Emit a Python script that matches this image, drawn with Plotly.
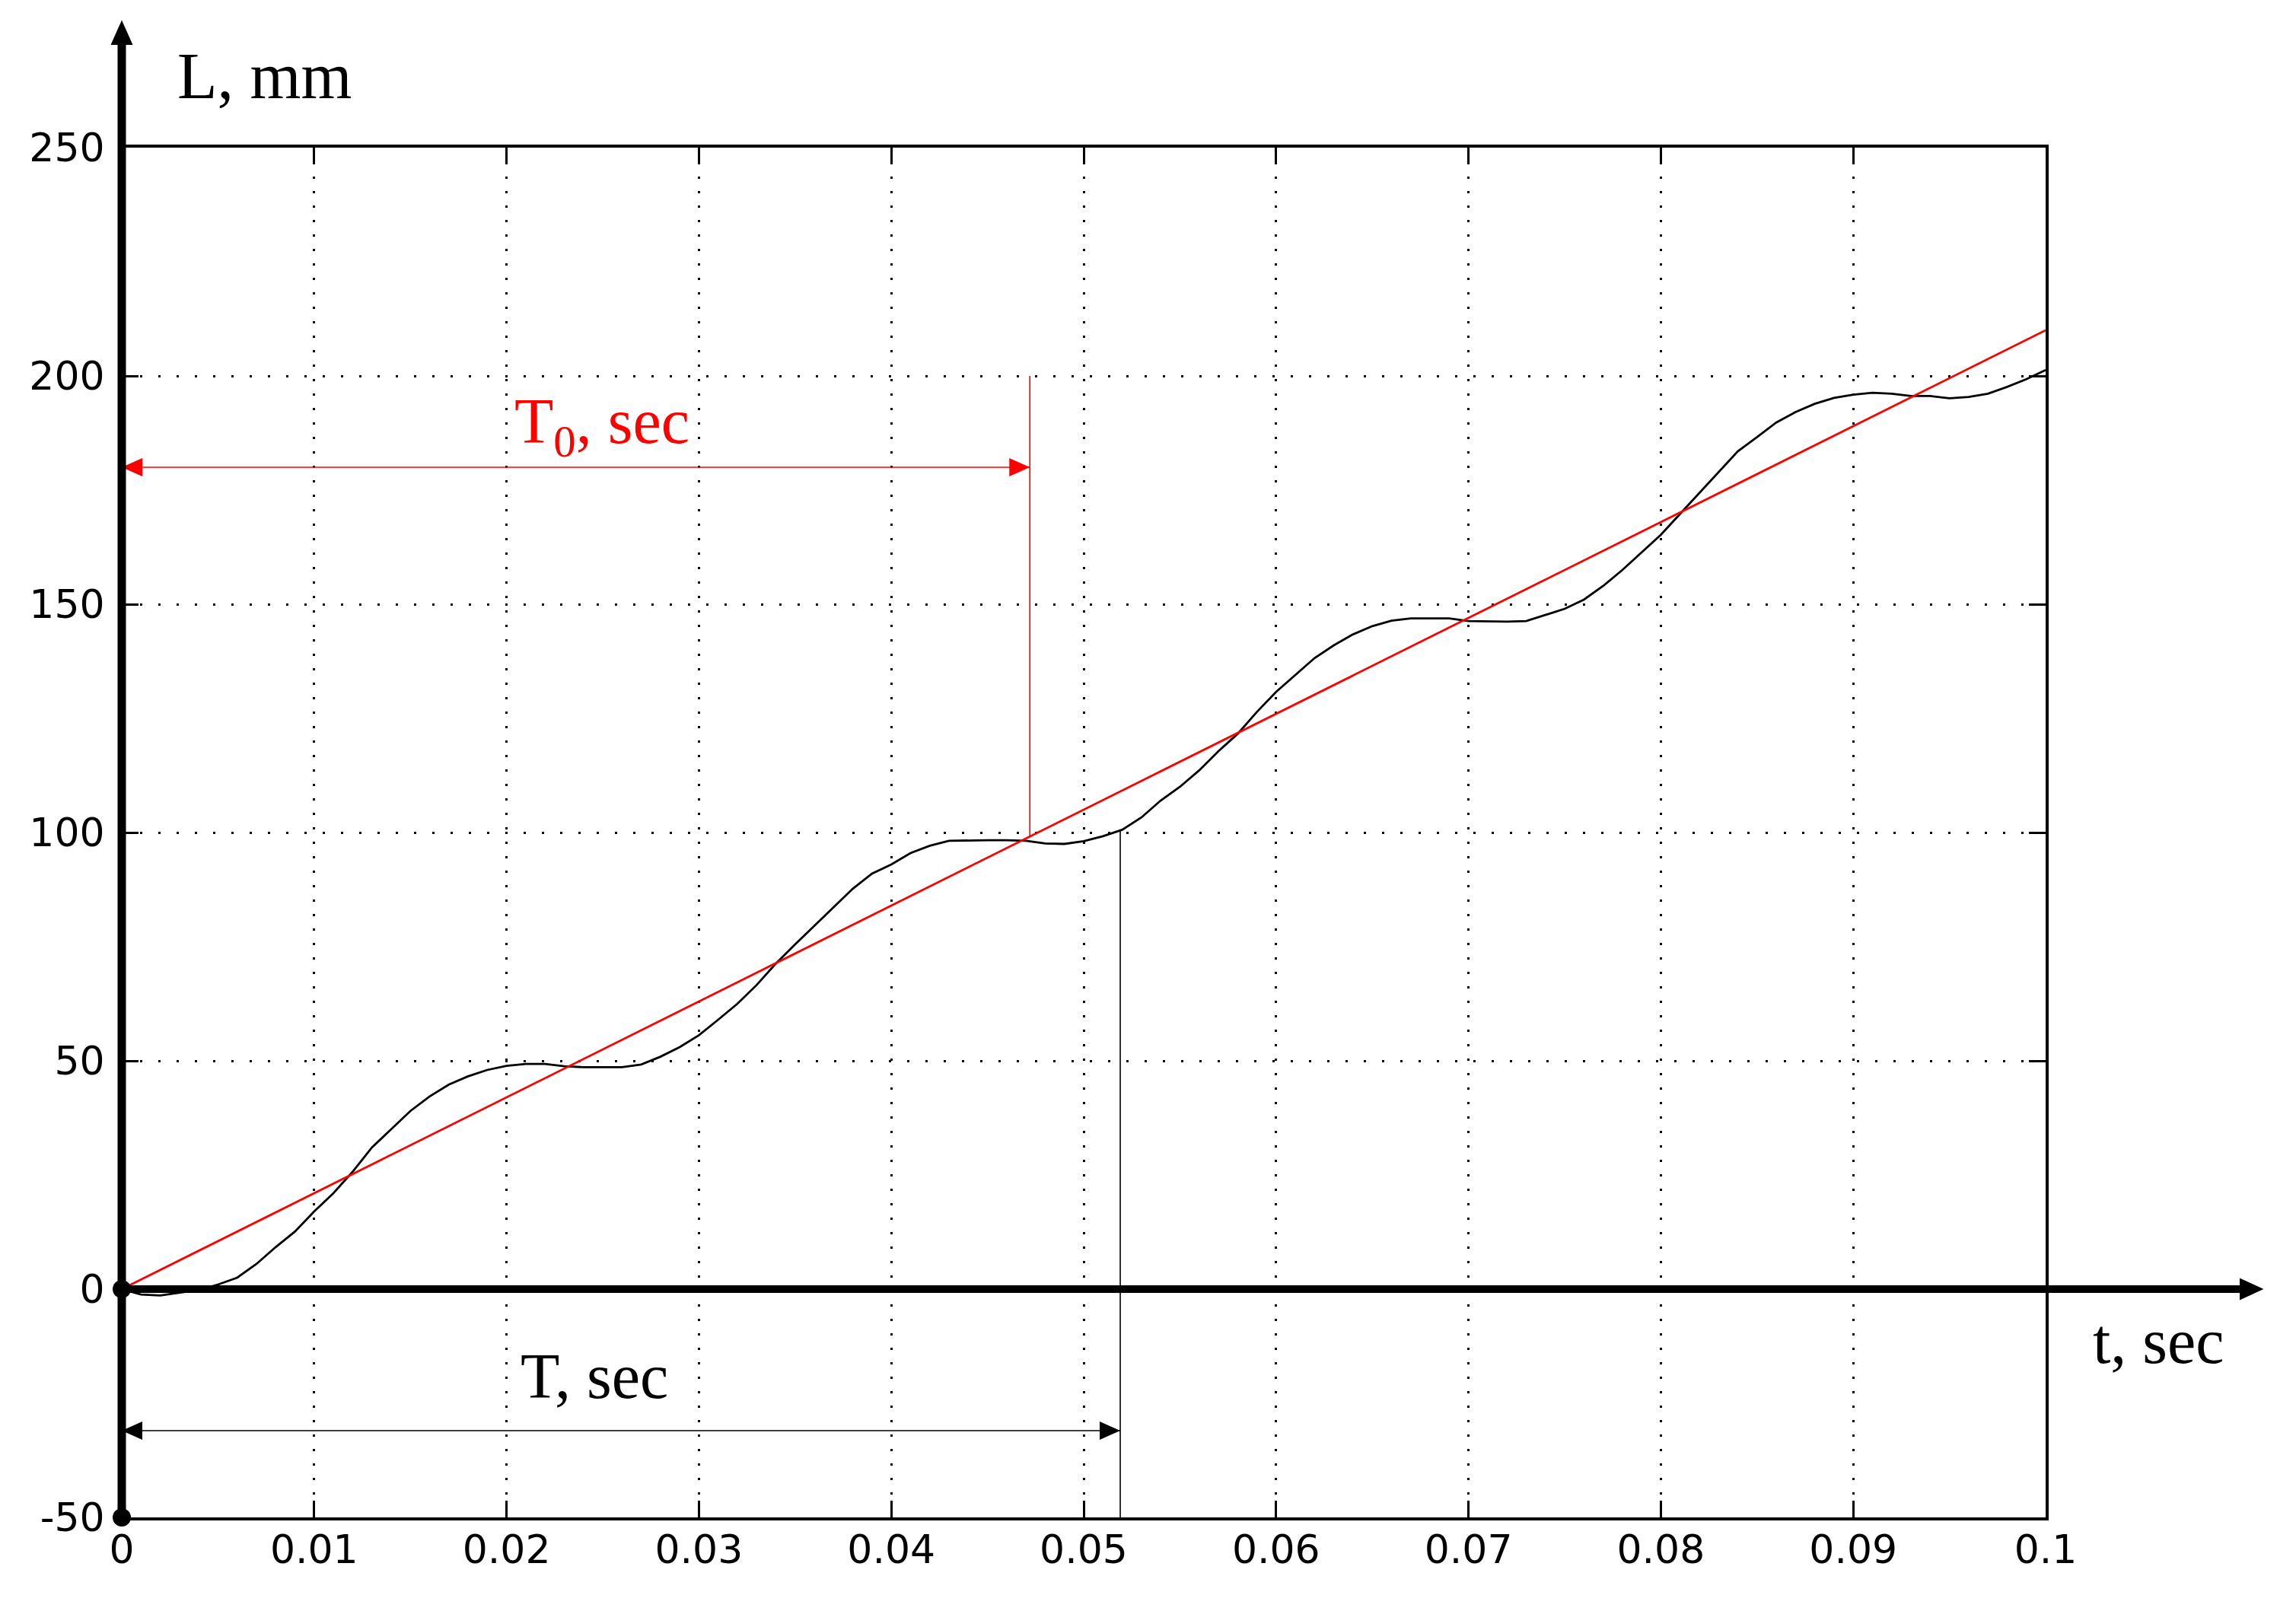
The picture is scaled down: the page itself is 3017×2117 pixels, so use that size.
import numpy as np
import plotly.graph_objects as go

# ---------------- data ----------------
t_black = [0.000, 0.001, 0.002, 0.003, 0.004, 0.005, 0.006, 0.007, 0.008, 0.009,
           0.010, 0.011, 0.012, 0.013, 0.014, 0.015, 0.016, 0.017, 0.018, 0.019,
           0.020, 0.021, 0.022, 0.023, 0.024, 0.025, 0.026, 0.027, 0.028, 0.029,
           0.030, 0.031, 0.032, 0.033, 0.034, 0.035, 0.036, 0.037, 0.038, 0.039,
           0.040, 0.041, 0.042, 0.043, 0.044, 0.045, 0.046, 0.047, 0.048, 0.049,
           0.050, 0.051, 0.052, 0.053, 0.054, 0.055, 0.056, 0.057, 0.058, 0.059,
           0.060, 0.061, 0.062, 0.063, 0.064, 0.065, 0.066, 0.067, 0.068, 0.069,
           0.070, 0.071, 0.072, 0.073, 0.074, 0.075, 0.076, 0.077, 0.078, 0.079,
           0.080, 0.081, 0.082, 0.083, 0.084, 0.085, 0.086, 0.087, 0.088, 0.089,
           0.090, 0.091, 0.092, 0.093, 0.094, 0.095, 0.096, 0.097, 0.098, 0.099,
           0.100]
L_black = [0.0, -1.2, -1.4, -0.8, -0.2, 1.0, 2.5, 5.5, 9.2, 12.6,
           17.0, 21.0, 25.7, 31.0, 35.0, 39.0, 42.2, 44.8, 46.6, 48.0,
           48.9, 49.3, 49.3, 48.8, 48.6, 48.6, 48.6, 49.2, 50.9, 53.0,
           55.6, 59.0, 62.5, 66.6, 71.3, 75.5, 79.6, 83.7, 87.7, 91.0,
           93.0, 95.5, 97.1, 98.2, 98.3, 98.3, 98.3, 98.2, 97.6, 97.5,
           98.1, 99.2, 100.6, 103.3, 107.0, 110.0, 113.6, 117.8, 121.6, 126.4,
           130.8, 134.5, 138.2, 141.0, 143.4, 145.2, 146.4, 146.9, 146.9, 146.9,
           146.3, 146.2, 146.2, 146.3, 147.6, 149.0, 151.0, 154.0, 157.5, 161.3,
           165.2, 169.8, 174.4, 179.0, 183.5, 186.6, 189.8, 192.1, 193.9, 195.2,
           195.9, 196.3, 196.1, 195.6, 195.6, 195.1, 195.4, 196.1, 197.6, 199.3,
           201.3]

t_red = [0.0, 0.1]
L_red = [0.0, 210.0]

x_ticks = [0, 0.01, 0.02, 0.03, 0.04, 0.05, 0.06, 0.07, 0.08, 0.09, 0.1]
x_tick_labels = ["0", "0.01", "0.02", "0.03", "0.04", "0.05", "0.06", "0.07", "0.08", "0.09", "0.1"]
y_ticks = [-50, 0, 50, 100, 150, 200, 250]
y_tick_labels = ["-50", "0", "50", "100", "150", "200", "250"]

T0_value = 0.0472      # sec, red dimension
T0_arrow_level = 180   # mm
T0_line_top = 200      # mm
T_value = 0.0519       # sec, black dimension
T_arrow_level = -31    # mm

# ---------------- layout constants ----------------
PAGE_W, PAGE_H = 3017, 2117
BODY = 8                                   # default page margin of the html body
W, H = PAGE_W - 2 * BODY, PAGE_H - 2 * BODY
PL, PT, PR, PB = 160, 194, 2688, 1994      # plot area on the page
ML, MT = PL - BODY, PT - BODY
PW, PH = PR - PL, PB - PT
MR, MB = W - ML - PW, H - MT - PH
X_RANGE = [0.0, 0.1]
Y_RANGE = [-50.0, 250.0]
dx_per_px = (X_RANGE[1] - X_RANGE[0]) / PW
dy_per_px = (Y_RANGE[1] - Y_RANGE[0]) / PH


def xpaper(v):
    return (v - X_RANGE[0]) / (X_RANGE[1] - X_RANGE[0])


def ypaper(v):
    return (v - Y_RANGE[0]) / (Y_RANGE[1] - Y_RANGE[0])


def px_to_xpaper(px):          # page pixel -> paper x
    return (px - PL) / PW


def px_to_ypaper(py):          # page pixel -> paper y
    return (PB - py) / PH


fig = go.Figure()

fig.add_trace(go.Scatter(x=t_black, y=L_black, mode="lines",
                         line=dict(color="black", width=2.8), hoverinfo="skip"))
fig.add_trace(go.Scatter(x=t_red, y=L_red, mode="lines",
                         line=dict(color="#ff0000", width=2.8), hoverinfo="skip"))

shapes = []
SERIF = "Liberation Serif, Times New Roman, serif"

# ---- dimension lines ----
red_bottom = float(np.interp(T0_value, t_red, L_red))
black_top = float(np.interp(T_value, t_black, L_black))


def hline(x0, x1, y, color, width):
    shapes.append(dict(type="line", xref="x", yref="y", x0=x0, x1=x1, y0=y, y1=y,
                       line=dict(color=color, width=width), layer="above"))


def vline(x, y0, y1, color, width):
    shapes.append(dict(type="line", xref="x", yref="y", x0=x, x1=x, y0=y0, y1=y1,
                       line=dict(color=color, width=width), layer="above"))


def head(x_tip, y, direction, color, length_px=27, half_px=12):
    xl = length_px * dx_per_px * direction
    hh = half_px * dy_per_px
    path = "M {a},{b} L {c},{d} L {c},{e} Z".format(a=x_tip, b=y, c=x_tip - xl, d=y + hh, e=y - hh)
    shapes.append(dict(type="path", xref="x", yref="y", path=path,
                       fillcolor=color, line=dict(color=color, width=0), layer="above"))


hline(0, T0_value, T0_arrow_level, "#ff0000", 1.6)
vline(T0_value, red_bottom, T0_line_top, "#ff0000", 1.6)
head(T0_value, T0_arrow_level, 1, "#ff0000")
head(0.0, T0_arrow_level, -1, "#ff0000")

hline(0, T_value, T_arrow_level, "black", 1.6)
vline(T_value, Y_RANGE[0], black_top, "black", 1.6)
head(T_value, T_arrow_level, 1, "black")
head(0.0, T_arrow_level, -1, "black")

# ---- thick coordinate axes with arrows (paper coords) ----
x0p = xpaper(0.0)
y0p = ypaper(0.0)
# vertical axis
ytip = px_to_ypaper(29)
ybase = px_to_ypaper(58)
hw = 13 / PW
shapes.append(dict(type="line", xref="paper", yref="paper", x0=x0p, x1=x0p, y0=0, y1=ybase + 2 / PH,
                   line=dict(color="black", width=11), layer="above"))
shapes.append(dict(type="path", xref="paper", yref="paper",
                   path=f"M {x0p},{ytip} L {x0p - hw},{ybase} L {x0p + hw},{ybase} Z",
                   fillcolor="black", line=dict(color="black", width=2), layer="above"))
# horizontal axis
xtip = px_to_xpaper(2972)
xbase = px_to_xpaper(2944)
hh = 13 / PH
shapes.append(dict(type="line", xref="paper", yref="paper", x0=x0p, x1=xbase + 2 / PW, y0=y0p, y1=y0p,
                   line=dict(color="black", width=10), layer="above"))
shapes.append(dict(type="path", xref="paper", yref="paper",
                   path=f"M {xtip},{y0p} L {xbase},{y0p + hh} L {xbase},{y0p - hh} Z",
                   fillcolor="black", line=dict(color="black", width=2), layer="above"))

# origin dots (drawn as circle shapes on top of the thick axes)
r = 12
for yv in [0.0, Y_RANGE[0]]:
    shapes.append(dict(type="circle", xref="paper", yref="paper",
                       x0=x0p - r / PW, x1=x0p + r / PW,
                       y0=ypaper(yv) - r / PH, y1=ypaper(yv) + r / PH,
                       fillcolor="black", line=dict(color="black", width=0), layer="above"))

annotations = [
    dict(text="L, mm", xref="paper", yref="paper", x=px_to_xpaper(231), y=px_to_ypaper(100),
         xanchor="left", yanchor="middle", showarrow=False,
         font=dict(family=SERIF, size=86, color="black")),
    dict(text="t, sec", xref="paper", yref="paper", x=px_to_xpaper(2836), y=px_to_ypaper(1762),
         xanchor="center", yanchor="middle", showarrow=False,
         font=dict(family=SERIF, size=84, color="black")),
    dict(text="T, sec", xref="x", yref="y", x=0.02456, y=-19.0,
         xanchor="center", yanchor="middle", showarrow=False,
         font=dict(family=SERIF, size=84, color="black")),
    dict(text="T<sub>0</sub>, sec", xref="x", yref="y", x=0.02496, y=189.0,
         xanchor="center", yanchor="middle", showarrow=False,
         font=dict(family=SERIF, size=84, color="#ff0000")),
]

tickfont = dict(family="DejaVu Sans, Arial, sans-serif", size=52, color="black")

fig.update_layout(
    width=W, height=H, autosize=False,
    margin=dict(l=ML, r=MR, t=MT, b=MB, pad=0),
    paper_bgcolor="white", plot_bgcolor="white",
    showlegend=False,
    shapes=shapes, annotations=annotations,
    xaxis=dict(range=X_RANGE, tickmode="array", tickvals=x_ticks, ticktext=x_tick_labels,
               showgrid=True, gridcolor="black", gridwidth=3, griddash="3px,16px",
               zeroline=False, showline=True, linecolor="black", linewidth=4, mirror="ticks",
               ticks="inside", ticklen=22, tickwidth=3, tickcolor="black",
               tickfont=tickfont, ticklabelstandoff=-6),
    yaxis=dict(range=Y_RANGE, tickmode="array", tickvals=y_ticks, ticktext=y_tick_labels,
               showgrid=True, gridcolor="black", gridwidth=3, griddash="3px,21px",
               zeroline=False, showline=True, linecolor="black", linewidth=4, mirror="ticks",
               ticks="inside", ticklen=22, tickwidth=3, tickcolor="black",
               tickfont=tickfont, ticklabelstandoff=8),
)

fig.write_html("out.html")
